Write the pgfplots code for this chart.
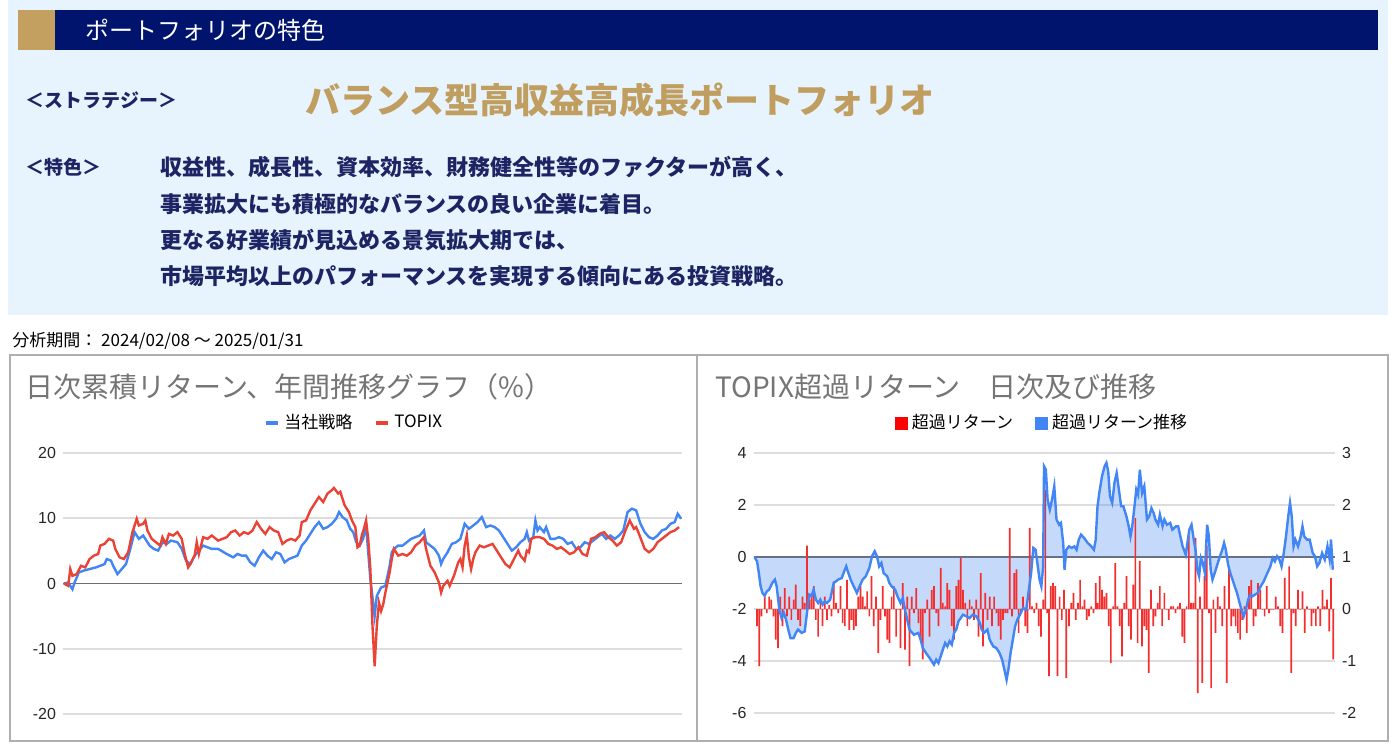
\documentclass[border=0pt]{standalone}
\usepackage{pgfplots}
\usepackage{pgfplotstable}
\pgfplotsset{compat=1.18}
\usepackage{fontspec}
\setmainfont{Liberation Sans}
\newfontfamily\cjk{Noto Sans CJK JP}
\definecolor{navy}{RGB}{0,20,110}
\definecolor{gold}{RGB}{196,160,96}
\definecolor{goldtxt}{RGB}{192,158,96}
\definecolor{bodytxt}{RGB}{28,36,100}
\definecolor{bgblue}{RGB}{232,244,253}
\definecolor{gblue}{RGB}{66,133,244}
\definecolor{gred}{RGB}{234,67,53}
\definecolor{barred}{RGB}{245,45,45}
\definecolor{gridc}{RGB}{221,221,221}
\definecolor{zeroc}{RGB}{110,110,110}
\definecolor{titlec}{RGB}{117,117,117}
\definecolor{boxc}{RGB}{175,175,175}
\pgfplotstableread[row sep=\\]{
x y\\
122 0\\ 128 -0.17\\ 132 -0.62\\ 136 -1.13\\ 140 -1.38\\ 145 -1.49\\ 150 -1.32\\ 155 -1.26\\ 162 -1.00\\ 168 -0.87\\
172 -1.13\\ 178 -2.03\\ 183 -2.35\\ 188 -2.15\\ 193 -2.41\\ 198 -2.79\\ 203 -3.12\\ 210 -3.12\\ 215 -2.92\\ 220 -2.79\\
228 -2.92\\ 235 -2.86\\ 240 -2.15\\ 245 -1.45\\ 250 -1.51\\ 255 -1.26\\ 260 -1.64\\ 265 -1.77\\ 270 -1.64\\ 275 -1.83\\
280 -1.71\\ 285 -1.77\\ 292 -1.64\\ 300 -1.00\\ 310 -0.87\\ 318 -0.81\\ 322 -0.62\\ 328 -0.36\\ 333 -0.62\\ 338 -0.87\\
345 -1.13\\ 352 -1.38\\ 358 -1.13\\ 365 -0.87\\ 372 -0.74\\ 380 -0.42\\ 386 0.03\\ 392 0.22\\ 397 0.03\\ 402 -0.36\\
407 -0.23\\ 412 -0.62\\ 420 -0.74\\ 425 -1.00\\ 430 -1.13\\ 438 -1.26\\ 443 -1.51\\ 450 -1.77\\ 455 -1.58\\ 460 -2.03\\
465 -2.41\\ 470 -2.79\\ 480 -2.99\\ 490 -2.92\\ 495 -3.18\\ 500 -3.50\\ 507 -3.69\\ 515 -3.88\\ 520 -4.01\\ 525 -4.14\\
530 -3.95\\ 535 -4.08\\ 540 -3.82\\ 545 -3.56\\ 550 -3.31\\ 555 -3.44\\ 560 -3.24\\ 565 -3.37\\ 570 -2.92\\ 575 -2.79\\
580 -2.47\\ 585 -2.35\\ 590 -2.22\\ 598 -2.28\\ 605 -2.35\\ 612 -2.22\\ 620 -2.28\\ 628 -2.54\\ 632 -2.79\\ 637 -2.92\\
645 -2.79\\ 650 -3.18\\ 658 -3.44\\ 665 -3.50\\ 672 -3.69\\ 678 -3.95\\ 683 -4.33\\ 688 -4.72\\ 692 -4.33\\ 697 -3.69\\
702 -3.18\\ 707 -2.67\\ 712 -2.41\\ 718 -2.22\\ 725 -1.96\\ 732 -2.03\\ 738 -1.26\\ 743 -0.62\\ 748 0.35\\ 753 0.28\\
758 -0.36\\ 762 -0.87\\ 766 -1.13\\ 770 -0.36\\ 772 3.49\\ 776 3.36\\ 780 2.21\\ 785 1.82\\ 790 2.21\\ 795 2.72\\
800 1.44\\ 806 1.24\\ 810 1.31\\ 815 0.54\\ 818 -0.49\\ 822 0.28\\ 828 0.41\\ 834 0.35\\ 840 0.41\\ 845 0.28\\
850 0.67\\ 855 0.86\\ 862 0.73\\ 870 0.54\\ 878 0.41\\ 884 0.28\\ 888 0.67\\ 892 1.95\\ 896 2.46\\ 902 3.10\\
908 3.49\\ 912 3.62\\ 916 3.29\\ 920 2.33\\ 925 2.08\\ 930 2.85\\ 935 3.23\\ 940 2.59\\ 945 1.95\\ 950 1.95\\
957 1.56\\ 962 1.18\\ 966 0.79\\ 970 1.18\\ 975 1.95\\ 979 2.59\\ 983 2.40\\ 987 3.36\\ 992 2.46\\ 997 2.72\\
1003 1.44\\ 1008 1.56\\ 1013 1.88\\ 1018 1.69\\ 1022 1.44\\ 1028 1.24\\ 1032 1.63\\ 1038 1.18\\ 1042 1.44\\ 1048 1.24\\
1055 1.31\\ 1060 1.05\\ 1068 1.18\\ 1073 1.18\\ 1078 0.79\\ 1083 0.41\\ 1090 0.09\\ 1098 1.05\\ 1103 1.24\\ 1108 0.67\\
1112 0.28\\ 1116 -0.49\\ 1120 -0.74\\ 1124 -0.04\\ 1128 -0.23\\ 1133 -0.62\\ 1138 1.24\\ 1142 0.79\\ 1146 -0.49\\ 1150 -0.87\\
1155 -0.62\\ 1162 -0.23\\ 1168 0.09\\ 1172 0.28\\ 1176 0.54\\ 1180 0.28\\ 1185 -0.29\\ 1190 -0.62\\ 1195 -0.87\\ 1200 -1.13\\
1205 -1.38\\ 1210 -1.71\\ 1215 -2.03\\ 1220 -2.28\\ 1225 -2.03\\ 1230 -1.64\\ 1235 -1.45\\ 1240 -1.51\\ 1245 -1.45\\ 1252 -1.38\\
1258 -1.13\\ 1265 -0.94\\ 1270 -0.74\\ 1275 -0.55\\ 1280 -0.36\\ 1285 -0.04\\ 1290 -0.17\\ 1295 0.03\\ 1300 -0.10\\ 1305 -0.36\\
1310 0.15\\ 1315 0.79\\ 1320 1.56\\ 1324 2.08\\ 1328 1.56\\ 1332 0.41\\ 1336 0.67\\ 1342 0.41\\ 1348 0.79\\ 1352 1.18\\
1356 0.79\\ 1362 0.67\\ 1368 0.67\\ 1375 0.15\\ 1380 0.03\\ 1385 -0.36\\ 1390 -0.23\\ 1396 0.15\\ 1402 -0.10\\ 1408 0.41\\
1413 -0.10\\ 1416 0.67\\ 1420 -0.49\\
}\cumtable
\pgfplotsset{
  rightbox/.style={
    at={(376.75pt,-356.5pt)}, anchor=south west,
    scale only axis, width=290.75pt, height=130pt,
    xmin=120, xmax=1425, xtick=\empty,
    axis line style={draw=none}, major tick length=0pt,
    /pgf/number format/assume math mode=true,
    yticklabel style={font=\fontsize{8}{9}\selectfont, text=black!85},
  }
}
\begin{document}
\begin{tikzpicture}
\path[use as bounding box] (0,0) rectangle (698.5pt,-374pt);
\fill[white] (0,0) rectangle (698.5pt,-374pt);
\begin{scope}[x=0.5pt,y=-0.5pt]
\fill[bgblue] (8,0) rectangle (1388,315);
\fill[gold] (18,10) rectangle (55,50);
\fill[navy] (55,10) rectangle (1378,50);
\node[anchor=west, text=white, inner sep=0pt, font=\cjk\fontsize{12}{14}\selectfont] at (85,30) {ポートフォリオの特色};
\node[anchor=west, text=bodytxt, inner sep=0pt, font=\cjk\bfseries\fontsize{9.5}{11}\selectfont] at (25,100) {＜ストラテジー＞};
\node[anchor=west, text=goldtxt, inner sep=0pt, font=\cjk\bfseries\fontsize{17.5}{20}\selectfont] at (305,100) {バランス型高収益高成長ポートフォリオ};
\node[anchor=west, text=bodytxt, inner sep=0pt, font=\cjk\bfseries\fontsize{9.5}{11}\selectfont] at (25,167) {＜特色＞};
\node[anchor=west, text=bodytxt, inner sep=0pt, font=\cjk\bfseries\fontsize{11}{13}\selectfont] at (160,167) {収益性、成長性、資本効率、財務健全性等のファクターが高く、};
\node[anchor=west, text=bodytxt, inner sep=0pt, font=\cjk\bfseries\fontsize{11}{13}\selectfont] at (160,204) {事業拡大にも積極的なバランスの良い企業に着目。};
\node[anchor=west, text=bodytxt, inner sep=0pt, font=\cjk\bfseries\fontsize{11}{13}\selectfont] at (160,240) {更なる好業績が見込める景気拡大期では、};
\node[anchor=west, text=bodytxt, inner sep=0pt, font=\cjk\bfseries\fontsize{11}{13}\selectfont] at (160,276) {市場平均以上のパフォーマンスを実現する傾向にある投資戦略。};
\node[anchor=west, text=black, inner sep=0pt, font=\cjk\fontsize{8.5}{10}\selectfont] at (12,341) {分析期間： 2024/02/08 ～ 2025/01/31};
\draw[boxc, line width=0.75pt] (10,355) rectangle (1388,741);
\draw[boxc, line width=0.75pt] (697,355) -- (697,741);
\node[anchor=west, text=titlec, inner sep=0pt, font=\cjk\fontsize{14}{16}\selectfont] at (25,387) {日次累積リターン、年間推移グラフ（\%）};
\node[anchor=west, text=titlec, inner sep=0pt, font=\cjk\fontsize{14}{16}\selectfont] at (715,387) {TOPIX超過リターン　日次及び推移};
\end{scope}

% ---------------- left chart ----------------
\begin{axis}[
  at={(31.5pt,-357pt)}, anchor=south west,
  scale only axis, width=309.5pt, height=130.5pt,
  xmin=78, xmax=1522, ymin=-20, ymax=20,
  ytick={-20,-10,0,10,20}, xtick=\empty,
  axis line style={draw=none}, major tick length=0pt,
  ymajorgrids, grid style={gridc, line width=0.8pt},
  extra y ticks={0}, extra y tick labels={},
  extra y tick style={grid style={zeroc, line width=0.9pt}},
  /pgf/number format/assume math mode=true,
  yticklabel style={font=\fontsize{8}{9}\selectfont, text=black!85},
  legend columns=2,
  legend image code/.code={\draw[#1, line width=2pt] (0pt,0pt) -- (6pt,0pt);},
  legend style={at={(0.472,1.115)}, anchor=center, draw=none, fill=none,
    font=\cjk\fontsize{8.5}{10}\selectfont,
    /tikz/every even column/.append style={column sep=9pt}},
]
\addplot[gblue, line width=1.2pt] table[row sep=\\] {
x y\\
80 0\\ 90 0.15\\ 100 -0.87\\ 105 0.15\\ 115 1.70\\ 125 1.95\\ 140 2.21\\ 155 2.47\\ 165 2.72\\ 175 2.98\\
180 3.75\\ 190 3.50\\ 195 2.72\\ 205 1.44\\ 215 2.21\\ 225 2.98\\ 235 5.30\\ 245 7.87\\ 255 6.84\\ 265 7.35\\
270 6.84\\ 280 5.81\\ 290 5.30\\ 300 5.04\\ 310 6.32\\ 320 6.07\\ 330 6.58\\ 345 6.32\\ 355 5.30\\ 365 3.50\\
375 2.98\\ 385 4.27\\ 395 5.04\\ 405 5.81\\ 415 5.55\\ 425 5.30\\ 440 5.30\\ 460 4.52\\ 475 4.01\\ 485 4.52\\
495 4.27\\ 505 4.27\\ 515 3.24\\ 525 2.72\\ 535 4.01\\ 545 5.04\\ 555 4.27\\ 565 3.75\\ 575 4.78\\ 585 4.52\\
595 3.24\\ 605 3.75\\ 615 4.01\\ 625 4.27\\ 635 5.81\\ 645 6.58\\ 655 7.61\\ 665 8.64\\ 675 9.41\\ 685 8.38\\
695 8.64\\ 705 9.15\\ 715 9.92\\ 722 10.95\\ 730 10.18\\ 740 9.67\\ 748 8.38\\ 755 7.87\\ 762 6.32\\ 770 5.81\\
778 6.84\\ 785 8.89\\ 795 0.67\\ 805 -4.99\\ 810 -1.90\\ 820 -0.62\\ 830 -0.36\\ 840 2.72\\ 845 4.78\\ 850 5.30\\
860 5.81\\ 870 5.81\\ 880 6.32\\ 890 6.84\\ 900 7.10\\ 910 7.35\\ 920 8.12\\ 925 6.32\\ 935 5.81\\ 945 5.30\\
955 4.27\\ 960 2.98\\ 965 3.75\\ 975 4.78\\ 985 6.07\\ 995 6.32\\ 1005 6.84\\ 1015 9.15\\ 1025 8.38\\ 1035 8.89\\
1045 9.41\\ 1055 10.18\\ 1065 8.64\\ 1075 8.89\\ 1085 8.64\\ 1095 8.12\\ 1105 7.10\\ 1115 6.07\\ 1125 5.04\\ 1135 5.55\\
1145 6.32\\ 1155 6.84\\ 1160 7.87\\ 1165 6.58\\ 1175 7.10\\ 1180 9.67\\ 1185 8.12\\ 1190 8.64\\ 1200 7.87\\ 1205 8.64\\
1215 6.84\\ 1225 6.84\\ 1235 7.10\\ 1245 6.84\\ 1255 6.07\\ 1265 6.32\\ 1275 5.30\\ 1285 5.55\\ 1295 6.32\\ 1305 6.07\\
1315 6.58\\ 1325 7.10\\ 1335 7.61\\ 1345 6.84\\ 1355 7.35\\ 1365 6.84\\ 1375 7.35\\ 1385 8.12\\ 1395 10.95\\ 1405 11.47\\
1415 11.21\\ 1425 9.15\\ 1435 7.87\\ 1445 7.10\\ 1455 6.84\\ 1465 7.35\\ 1475 8.12\\ 1485 8.38\\ 1495 9.15\\ 1505 9.41\\
1512 10.69\\ 1520 9.92\\
};
\addlegendentry{当社戦略}
\addplot[gred, line width=1.2pt] table[row sep=\\] {
x y\\
80 0\\ 90 -0.36\\ 95 2.21\\ 100 1.18\\ 110 1.44\\ 120 2.72\\ 130 2.47\\ 140 3.75\\ 150 4.27\\ 160 4.52\\
165 5.81\\ 175 6.07\\ 185 6.84\\ 195 6.58\\ 200 5.30\\ 210 4.01\\ 220 3.75\\ 230 4.78\\ 240 7.87\\ 250 9.92\\
255 8.89\\ 265 9.15\\ 270 9.67\\ 275 8.12\\ 285 6.84\\ 295 6.32\\ 305 5.81\\ 310 7.10\\ 318 6.07\\ 325 7.61\\
335 7.35\\ 345 7.87\\ 355 6.84\\ 362 4.52\\ 370 2.47\\ 375 2.98\\ 385 4.27\\ 390 6.32\\ 395 4.52\\ 405 7.10\\
415 6.84\\ 425 7.35\\ 440 6.58\\ 460 7.10\\ 470 7.87\\ 480 8.12\\ 490 7.35\\ 500 7.87\\ 510 7.61\\ 520 8.12\\
530 9.41\\ 540 8.38\\ 550 7.61\\ 560 8.64\\ 570 8.12\\ 580 7.87\\ 590 6.07\\ 600 6.58\\ 610 6.84\\ 620 6.58\\
630 7.35\\ 635 9.41\\ 645 9.67\\ 655 11.21\\ 665 12.24\\ 675 13.26\\ 685 12.49\\ 695 13.78\\ 705 14.29\\ 710 14.65\\
720 13.78\\ 725 14.04\\ 735 11.98\\ 745 10.95\\ 752 9.67\\ 760 8.64\\ 765 5.55\\ 770 5.81\\ 775 7.35\\ 780 8.38\\
785 9.67\\ 790 6.84\\ 795 2.21\\ 800 -6.53\\ 805 -12.70\\ 810 -6.53\\ 815 -2.93\\ 820 -4.22\\ 825 -3.19\\ 830 -1.39\\
840 1.70\\ 845 3.75\\ 850 5.30\\ 860 4.27\\ 870 4.52\\ 880 4.27\\ 890 4.78\\ 900 5.81\\ 910 6.32\\ 920 7.10\\
925 5.30\\ 935 2.72\\ 945 1.70\\ 955 0.15\\ 960 -1.39\\ 965 -0.36\\ 975 0.41\\ 980 -0.36\\ 990 1.18\\ 1000 3.24\\
1005 3.75\\ 1010 2.47\\ 1015 5.81\\ 1020 7.35\\ 1025 4.01\\ 1030 2.21\\ 1035 3.75\\ 1040 4.78\\ 1050 5.81\\ 1060 5.55\\
1070 5.81\\ 1080 6.07\\ 1090 5.04\\ 1100 4.01\\ 1110 2.98\\ 1120 2.47\\ 1130 3.75\\ 1140 5.04\\ 1145 4.27\\ 1155 3.50\\
1160 5.04\\ 1165 4.78\\ 1170 6.84\\ 1180 7.10\\ 1190 7.10\\ 1200 6.84\\ 1210 6.07\\ 1220 5.81\\ 1230 5.30\\ 1240 5.55\\
1250 5.04\\ 1260 4.52\\ 1270 4.78\\ 1280 5.55\\ 1290 4.52\\ 1300 4.27\\ 1310 6.84\\ 1320 7.10\\ 1330 7.61\\ 1340 7.87\\
1350 7.10\\ 1360 6.58\\ 1370 5.81\\ 1380 6.32\\ 1390 8.12\\ 1400 9.67\\ 1410 8.38\\ 1415 8.64\\ 1420 7.87\\ 1435 5.30\\
1445 4.78\\ 1455 5.30\\ 1465 6.32\\ 1475 6.84\\ 1485 7.35\\ 1495 7.87\\ 1505 8.12\\ 1515 8.64\\
};
\addlegendentry{TOPIX}
\end{axis}

% ---------------- right chart, layer 1: grid, zero line, area fill (left scale) ----------------
\begin{axis}[rightbox,
  ymin=-6, ymax=4, ytick={-6,-4,-2,0,2,4},
  ymajorgrids, grid style={gridc, line width=0.8pt},
  extra y ticks={0}, extra y tick labels={},
  extra y tick style={grid=major, grid style={zeroc, line width=0.9pt}},
  legend columns=2,
  legend image code/.code={\fill[#1] (0pt,-3.25pt) rectangle (6.5pt,3.25pt);},
  legend style={at={(0.498,1.115)}, anchor=center, draw=none, fill=none,
    font=\cjk\fontsize{8.5}{10}\selectfont,
    /tikz/every even column/.append style={column sep=9pt}},
]
\addplot[fill=gblue, fill opacity=0.3, draw=none, forget plot] table {\cumtable} \closedcycle;
\addlegendimage{fill=red, draw=none}
\addlegendentry{超過リターン}
\addlegendimage{fill=gblue, draw=none}
\addlegendentry{超過リターン推移}
\end{axis}

% ---------------- right chart, layer 2: daily bars (right scale) ----------------
\begin{axis}[rightbox,
  ymin=-2, ymax=3, ytick={-2,-1,0,1,2,3}, yticklabel pos=right,
]
\addplot[ybar, bar width=0.85pt, fill=barred, draw=none, mark=none] table[row sep=\\] {
x y\\
128 -0.33\\ 133 -1.10\\ 138 -0.14\\ 145 0.24\\ 150 -0.08\\ 155 0.24\\ 160 0.18\\ 165 -0.14\\ 170 -0.59\\ 175 -0.75\\
180 0.24\\ 185 -0.33\\ 190 0.40\\ 195 -0.14\\ 200 0.24\\ 205 -0.21\\ 210 0.18\\ 215 0.47\\ 220 -0.21\\ 225 -0.33\\
230 0.24\\ 235 0.12\\ 240 1.22\\ 245 0.18\\ 250 0.31\\ 255 0.44\\ 260 -0.21\\ 265 -0.53\\ 270 0.18\\ 275 -0.33\\
280 0.24\\ 285 -0.21\\ 290 0.08\\ 295 -0.14\\ 300 0.53\\ 305 0.12\\ 310 -0.08\\ 315 0.44\\ 320 -0.27\\ 325 -0.33\\
330 0.56\\ 335 -0.40\\ 340 -0.21\\ 345 -0.40\\ 350 -0.33\\ 355 0.24\\ 360 0.44\\ 365 0.24\\ 370 0.05\\ 375 0.34\\
380 -0.14\\ 385 0.63\\ 390 -0.33\\ 395 0.24\\ 400 -0.85\\ 405 -0.21\\ 410 0.44\\ 415 -0.14\\ 420 -0.59\\ 425 -0.65\\
430 0.24\\ 435 0.44\\ 440 -0.53\\ 445 -0.01\\ 450 -0.75\\ 455 0.50\\ 460 -0.78\\ 465 0.24\\ 470 -1.10\\ 475 0.24\\
480 -0.08\\ 485 0.40\\ 490 -0.27\\ 495 -0.59\\ 500 -0.97\\ 505 -0.08\\ 510 0.18\\ 515 -0.53\\ 520 0.37\\ 525 0.44\\
530 -0.08\\ 535 -0.33\\ 540 0.79\\ 545 0.12\\ 550 0.05\\ 555 0.50\\ 560 0.37\\ 565 -0.33\\ 570 -0.59\\ 575 0.44\\
580 0.56\\ 585 0.98\\ 590 0.37\\ 595 0.12\\ 600 -0.33\\ 605 0.18\\ 610 0.05\\ 615 -0.21\\ 620 0.18\\ 625 -0.53\\
630 0.69\\ 635 -0.72\\ 640 0.31\\ 645 -0.21\\ 650 0.24\\ 655 -0.33\\ 660 0.24\\ 665 -0.08\\ 670 -0.33\\ 675 -0.59\\
680 -0.21\\ 685 -0.08\\ 690 -0.08\\ 695 1.56\\ 700 -0.14\\ 705 0.69\\ 710 0.76\\ 715 -0.46\\ 720 -0.08\\ 725 0.24\\
730 -0.33\\ 735 -0.46\\ 740 1.56\\ 745 0.05\\ 750 -0.08\\ 755 0.12\\ 760 -0.33\\ 765 -0.53\\ 770 0.18\\ 775 2.29\\
779 -0.08\\ 783 -1.29\\ 787 0.44\\ 792 0.50\\ 797 0.44\\ 802 -1.29\\ 807 0.24\\ 812 -0.21\\ 817 0.37\\ 822 -1.33\\
828 -0.33\\ 833 0.12\\ 838 0.31\\ 843 -0.21\\ 848 0.12\\ 853 0.56\\ 858 0.05\\ 863 0.18\\ 868 -0.21\\ 873 -0.14\\
878 0.05\\ 883 -0.08\\ 888 0.50\\ 892 0.12\\ 897 0.63\\ 902 0.37\\ 907 0.24\\ 912 0.31\\ 917 -0.33\\ 922 -1.04\\
927 0.05\\ 932 0.88\\ 937 0.05\\ 942 -0.33\\ 947 -0.91\\ 952 0.12\\ 957 0.63\\ 962 -0.33\\ 967 -0.59\\ 972 0.47\\
977 1.75\\ 982 -0.65\\ 987 0.92\\ 992 -0.72\\ 997 -0.33\\ 1002 -0.40\\ 1007 -1.23\\ 1012 0.37\\ 1017 -0.33\\ 1022 -0.14\\
1027 0.12\\ 1032 0.44\\ 1037 -0.33\\ 1042 0.31\\ 1047 -0.01\\ 1052 -0.21\\ 1057 0.05\\ 1062 0.05\\ 1067 -0.08\\ 1072 0.05\\
1077 0.12\\ 1082 -0.53\\ 1087 -0.65\\ 1092 0.05\\ 1097 1.40\\ 1102 0.12\\ 1107 0.12\\ 1112 1.37\\ 1117 -1.62\\ 1122 0.24\\
1127 -1.42\\ 1132 0.63\\ 1137 1.21\\ 1142 -0.08\\ 1147 -1.52\\ 1152 0.18\\ 1157 -0.46\\ 1162 0.24\\ 1167 0.05\\ 1172 -0.33\\
1177 0.44\\ 1182 -1.42\\ 1187 0.76\\ 1192 -0.33\\ 1197 -0.14\\ 1202 -0.33\\ 1207 -0.46\\ 1212 -0.59\\ 1217 -0.21\\ 1222 0.05\\
1227 -0.46\\ 1232 0.44\\ 1237 0.56\\ 1242 -0.33\\ 1247 -0.14\\ 1252 0.50\\ 1257 0.37\\ 1262 -0.01\\ 1267 -0.14\\ 1272 0.44\\
1277 -0.08\\ 1282 -0.01\\ 1287 -0.01\\ 1292 0.24\\ 1297 0.05\\ 1302 -0.33\\ 1307 -0.46\\ 1312 0.60\\ 1317 -0.01\\ 1322 0.82\\
1327 -1.23\\ 1332 -0.08\\ 1337 -0.33\\ 1342 0.37\\ 1347 -0.01\\ 1352 0.34\\ 1357 -0.46\\ 1362 0.05\\ 1367 -0.01\\ 1372 -0.33\\
1377 -0.08\\ 1382 -0.33\\ 1387 0.05\\ 1392 -0.33\\ 1397 0.37\\ 1402 0.05\\ 1407 0.18\\ 1412 -0.43\\ 1416 0.60\\ 1421 -0.97\\
};
\end{axis}

% ---------------- right chart, layer 3: cumulative line (left scale) ----------------
\begin{axis}[rightbox,
  ymin=-6, ymax=4, ytick=\empty,
]
\addplot[gblue, line width=1.2pt] table {\cumtable};
\end{axis}
\end{tikzpicture}
\end{document}
